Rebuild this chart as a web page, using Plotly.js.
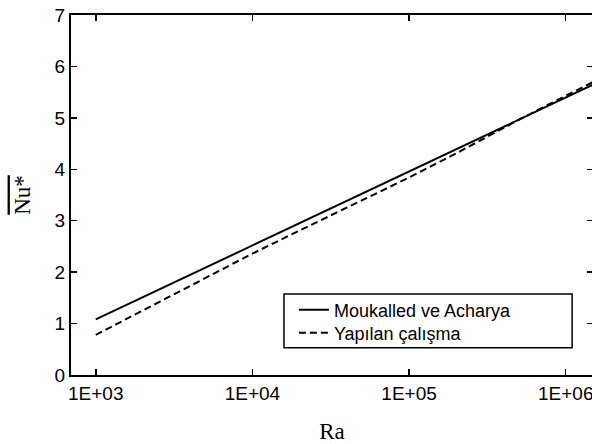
<!DOCTYPE html>
<html>
<head>
<meta charset="utf-8">
<script src="https://cdn.plot.ly/plotly-3.0.1.min.js"></script>
<style>html,body{margin:0;padding:0;overflow:hidden;background:#fff}</style>
</head>
<body>
<div id="chart" style="width:593px;height:444px"></div>
<script>
// Data
const raSolid = [1e3, 1e4, 1e5, 1e6, 1.5e6];
const nuSolid = [1.08, 2.52, 3.96, 5.40, 5.65];
const raDashed = [1e3, 2e3, 5e3, 1e4, 2e4, 5e4, 1e5, 2e5, 5e5, 1e6, 1.5e6];
const nuDashed = [0.78, 1.26, 1.89, 2.36, 2.81, 3.40, 3.84, 4.31, 4.96, 5.43, 5.70];
const seriesNames = ['Moukalled ve Acharya', 'Yapılan çalışma'];
const xTickVals = [1e3, 1e4, 1e5, 1e6];
const xTickText = ['1E+03', '1E+04', '1E+05', '1E+06'];
const yTickVals = [0, 1, 2, 3, 4, 5, 6, 7];

const traces = [
  {x: raSolid, y: nuSolid, name: seriesNames[0], mode: 'lines', type: 'scatter',
   line: {color: '#000', width: 2}, legend: 'legend'},
  {x: raDashed, y: nuDashed, name: seriesNames[1], mode: 'lines', type: 'scatter',
   line: {color: '#000', width: 2, dash: '7px,4px'}, legend: 'legend2'}
];

const tickFont = {family: 'Liberation Sans, Arial, sans-serif', size: 19, color: '#000'};
const legFont = {family: 'Liberation Sans, Arial, sans-serif', size: 18, color: '#000'};

const layout = {
  width: 593, height: 444,
  margin: {l: 71, r: 0, t: 15, b: 69},
  paper_bgcolor: '#fff', plot_bgcolor: '#fff',
  showlegend: true,
  legend: {x: 0.427, y: 0.1806, xanchor: 'left', yanchor: 'middle',
    bgcolor: 'rgba(0,0,0,0)', borderwidth: 0, font: legFont, itemwidth: 30},
  legend2: {x: 0.427, y: 0.1167, xanchor: 'left', yanchor: 'middle',
    bgcolor: 'rgba(0,0,0,0)', borderwidth: 0, font: legFont, itemwidth: 30},
  shapes: [{type: 'rect', xref: 'paper', yref: 'paper', x0: 0.408, x1: 0.960, y0: 0.076, y1: 0.225,
    line: {color: '#000', width: 1.5}, fillcolor: 'rgba(0,0,0,0)'}],
  xaxis: {
    type: 'log', range: [2.842, 6.174],
    tickvals: xTickVals, ticktext: xTickText,
    ticks: 'inside', ticklen: 6, tickwidth: 1.5, tickcolor: '#000',
    showline: true, linecolor: '#000', linewidth: 2, mirror: 'ticks',
    showgrid: false, zeroline: false, ticklabeloverflow: 'allow',
    tickfont: tickFont,
    title: {text: 'Ra', font: {family: 'Liberation Serif, Times New Roman, serif', size: 23, color: '#000'}, standoff: 20}
  },
  yaxis: {
    range: [0, 7], tickvals: yTickVals,
    ticks: 'inside', ticklen: 6, tickwidth: 1.5, tickcolor: '#000',
    showline: true, linecolor: '#000', linewidth: 2, mirror: 'ticks',
    showgrid: false, zeroline: false,
    tickfont: tickFont,
    title: {text: '<span style="text-decoration:overline">Nu*</span>', font: {family: 'Liberation Serif, Times New Roman, serif', size: 23, color: '#000'}, standoff: 18}
  }
};

Plotly.newPlot('chart', traces, layout, {displayModeBar: false, staticPlot: true});
</script>
</body>
</html>
